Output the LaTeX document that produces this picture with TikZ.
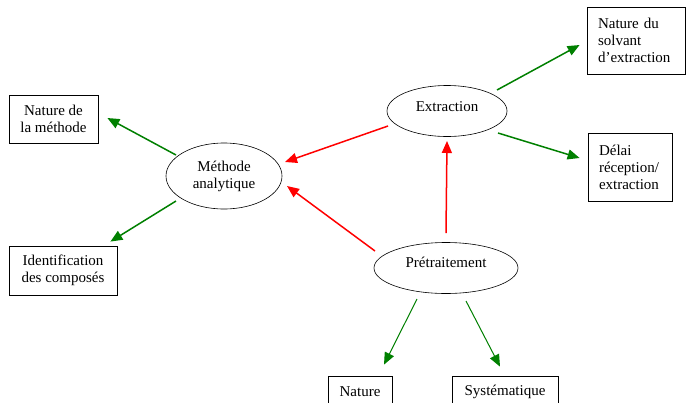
\documentclass[tikz,border=0pt]{standalone}
\usepackage{fontspec}
\setmainfont{Liberation Serif}
\usetikzlibrary{shapes.geometric,arrows.meta,calc}
\definecolor{grn}{RGB}{0,128,0}
\definecolor{rd}{RGB}{255,0,0}
\begin{document}
\begin{tikzpicture}[x=1pt,y=-1pt,
  every node/.style={font=\fontsize{15}{17}\selectfont, inner sep=0pt},
  ell/.style={draw, ellipse, line width=0.6pt},
  box/.style={draw, line width=0.8pt, rectangle},
  lbox/.style={box, align=left, inner xsep=11pt},
  tip/.style={-{Triangle[length=12pt,width=10pt]}},
  garrow/.style={draw=grn, line width=1.5pt, tip},
  gthin/.style={draw=grn, line width=1pt, tip},
  rarrow/.style={draw=rd, line width=1.5pt, tip}]
\useasboundingbox (0,0) rectangle (687,402);
\clip (0,0) rectangle (687,402);
\fill[white] (0,0) rectangle (687,402);
% ellipses
\node[ell, minimum width=116pt, minimum height=66pt, align=center] (m) at (224,176) {Méthode\\analytique};
\node[ell, minimum width=120pt, minimum height=51pt, text depth=8pt] (e) at (447,111) {Extraction};
\node[ell, minimum width=144pt, minimum height=51pt, text depth=12pt] (p) at (446,268) {Prétraitement};
% boxes
\node[box, minimum width=89pt, minimum height=48pt, align=center] (nm) at (53.5,119) {Nature de\\la méthode};
\node[box, minimum width=108pt, minimum height=49pt, align=center] (ic) at (63,270.5) {Identification\\des composés};
\node[lbox, text width=76pt, minimum height=67pt] (ns) at (636,40.5) {Nature du\\solvant\\d’extraction};
\node[lbox, text width=62pt, minimum height=68pt] (dr) at (630,167) {Délai\\réception/\\extraction};
\node[box, minimum width=64pt, minimum height=32pt] (na) at (360,392) {Nature};
\node[box, minimum width=106pt, minimum height=32pt] (sy) at (505,392) {Systématique};
% arrows
\draw[garrow] ($(m.center)+(-48,-21)$) -- ($(nm.east)+(9,-1)$);
\draw[garrow] ($(m.center)+(-48,25)$) -- ($(ic.north east)+(-7,-4)$);
\draw[rarrow] ($(e.center)+(-59,15)$) -- ($(m.center)+(61,-14)$);
\draw[rarrow] ($(p.center)+(-71,-17)$) -- ($(m.center)+(63,10)$);
\draw[rarrow] ($(p.center)+(0,-35)$) -- ($(e.center)+(0,30)$);
\draw[garrow] ($(e.center)+(50,-21)$) -- ($(ns.west)+(-7,4.5)$);
\draw[garrow] ($(e.center)+(51,22)$) -- ($(dr.west)+(-8,-9)$);
\draw[gthin] ($(p.center)+(-29,31)$) -- ($(na.north)+(24,-11)$);
\draw[gthin] ($(p.center)+(20,33)$) -- ($(sy.north)+(-5,-9)$);
\end{tikzpicture}
\end{document}
